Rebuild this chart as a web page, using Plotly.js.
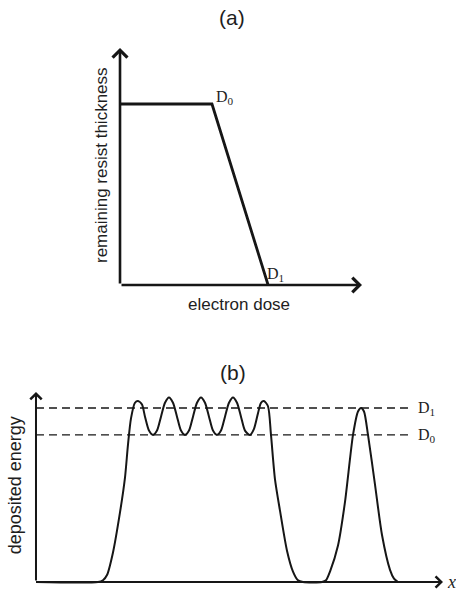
<!DOCTYPE html>
<html>
<head>
<meta charset="utf-8">
<script src="https://cdn.plot.ly/plotly-3.0.1.min.js"></script>
<style>
  html, body { margin: 0; padding: 0; background: #fff; }
  #chartDiv { width: 456px; height: 591px; }
</style>
</head>
<body>
<div id="chartDiv"></div>
<script>
// (a) contrast curve
let doseX = [0, 3.8, 6.12]
let thickness = [1, 1, 0]
let doseAxisEnd = 10
let thicknessAxisEnd = 1.31

// (b) deposited energy profile along x
let posX = [0, 62, 67, 71, 77, 84, 89, 92, 95, 99, 102, 106, 109, 113, 117, 121, 125, 129, 133,
  137, 141, 145, 149, 153, 157, 161, 165, 169, 173, 177, 181, 185, 189, 193, 197, 201, 205,
  209, 214, 218, 222, 225, 228, 232, 235, 239, 244, 251, 257, 262, 267, 286, 290, 294, 302,
  309, 317, 322, 325, 328, 332, 339, 346, 354, 358, 362]
let energy = [0, 0, 0.01, 0.04, 0.17, 0.40, 0.60, 0.79, 0.94, 1.03, 1.04, 1.02, 0.95, 0.87, 0.845,
  0.87, 0.95, 1.03, 1.06, 1.03, 0.95, 0.87, 0.845, 0.87, 0.95, 1.03, 1.06, 1.03, 0.95, 0.87,
  0.845, 0.87, 0.95, 1.03, 1.06, 1.03, 0.95, 0.87, 0.845, 0.88, 0.97, 1.03, 1.04, 1.01, 0.845,
  0.59, 0.41, 0.18, 0.06, 0.01, 0, 0, 0.01, 0.06, 0.21, 0.46, 0.845, 0.98, 1.0, 0.98, 0.845,
  0.56, 0.27, 0.07, 0.02, 0]
let levelNames = ['D<sub>1</sub>', 'D<sub>0</sub>']
let levelValues = [1.0, 0.845]
let levelEnd = 376
let posAxisEnd = 407
let energyAxisEnd = 1.092

let ink = '#161616'
let textInk = '#1e1e1e'
let sans = 'Liberation Sans, Arial, sans-serif'
let serif = 'Liberation Serif, Times New Roman, serif'

let hidden = {
  showgrid: false,
  zeroline: false,
  showline: false,
  showticklabels: false,
  ticks: '',
  fixedrange: true
}

let trace1 = {
  mode: 'lines',
  type: 'scatter',
  x: doseX,
  y: thickness,
  xaxis: 'x',
  yaxis: 'y',
  line: {color: ink, width: 2.8},
  hoverinfo: 'skip'
}
let trace2 = {
  mode: 'lines',
  type: 'scatter',
  x: posX,
  y: energy,
  xaxis: 'x2',
  yaxis: 'y2',
  line: {color: ink, width: 2, shape: 'spline', smoothing: 0.7},
  hoverinfo: 'skip'
}
let traces = [trace1, trace2]
for (let i = 0; i < levelValues.length; i++) {
  traces.push({
    mode: 'lines',
    type: 'scatter',
    x: [0, levelEnd],
    y: [levelValues[i], levelValues[i]],
    xaxis: 'x2',
    yaxis: 'y2',
    line: {color: ink, width: 1.3, dash: '8px,5px'},
    hoverinfo: 'skip'
  })
}

function axisArrow (xref, yref, x, y, ax, ay, width) {
  return {
    xref: xref, yref: yref, axref: xref, ayref: yref,
    x: x, y: y, ax: ax, ay: ay,
    text: '',
    showarrow: true,
    arrowhead: 4,
    arrowsize: 1.1,
    arrowwidth: width,
    arrowcolor: ink
  }
}

function label (x, y, text, size, angle) {
  return {
    xref: 'paper', yref: 'paper', x: x, y: y,
    xanchor: 'center', yanchor: 'middle',
    text: text, showarrow: false, textangle: angle || 0,
    font: {family: sans, size: size, color: textInk}
  }
}

let annotations = [
  axisArrow('x', 'y', doseAxisEnd, 0, 0, 0, 2.6),
  axisArrow('x', 'y', 0, thicknessAxisEnd, 0, 0, 2.6),
  axisArrow('x2', 'y2', posAxisEnd, 0, 0, 0, 2),
  axisArrow('x2', 'y2', 0, energyAxisEnd, 0, 0, 2),
  label(0.509, 0.971, '(a)', 21),
  label(0.511, 0.369, '(b)', 21),
  label(0.524, 0.484, 'electron dose', 17),
  label(0.224, 0.721, 'remaining resist thickness', 17, -90),
  label(0.033, 0.179, 'deposited energy', 18, -90),
  {
    xref: 'x', yref: 'y', x: doseX[1], y: thickness[1],
    xanchor: 'left', yanchor: 'middle', xshift: 2, yshift: 7,
    text: 'D<sub>0</sub>', showarrow: false,
    font: {family: serif, size: 16, color: textInk}
  },
  {
    xref: 'x', yref: 'y', x: doseX[2], y: thickness[2],
    xanchor: 'left', yanchor: 'middle', xshift: -3, yshift: 11,
    text: 'D<sub>1</sub>', showarrow: false,
    font: {family: serif, size: 16, color: textInk}
  },
  {
    xref: 'paper', yref: 'paper', x: 0.991, y: 0.016,
    xanchor: 'center', yanchor: 'middle',
    text: '<i>x</i>', showarrow: false,
    font: {family: serif, size: 18, color: textInk}
  }
]
for (let i = 0; i < levelNames.length; i++) {
  annotations.push({
    xref: 'x2', yref: 'y2', x: levelEnd, y: levelValues[i],
    xanchor: 'left', yanchor: 'middle', xshift: 4, yshift: -1,
    text: levelNames[i], showarrow: false,
    font: {family: serif, size: 16, color: textInk}
  })
}

let layout = {
  width: 456,
  height: 591,
  autosize: false,
  margin: {l: 0, r: 0, t: 0, b: 0, pad: 0},
  paper_bgcolor: '#fff',
  plot_bgcolor: 'rgba(0,0,0,0)',
  showlegend: false,
  xaxis: Object.assign({domain: [0.2101, 0.8204], range: [-1, 10.5]}, hidden),
  yaxis: Object.assign({domain: [0.4871, 0.9312], range: [-0.1, 1.35]}, hidden),
  xaxis2: Object.assign({domain: [0.057, 1.0], range: [-10, 420], anchor: 'y2'}, hidden),
  yaxis2: Object.assign({domain: [0.0005, 0.345], range: [-0.05, 1.12], anchor: 'x2'}, hidden),
  annotations: annotations
}

Plotly.newPlot('chartDiv', traces, layout, {staticPlot: true, displayModeBar: false})
</script>
</body>
</html>
